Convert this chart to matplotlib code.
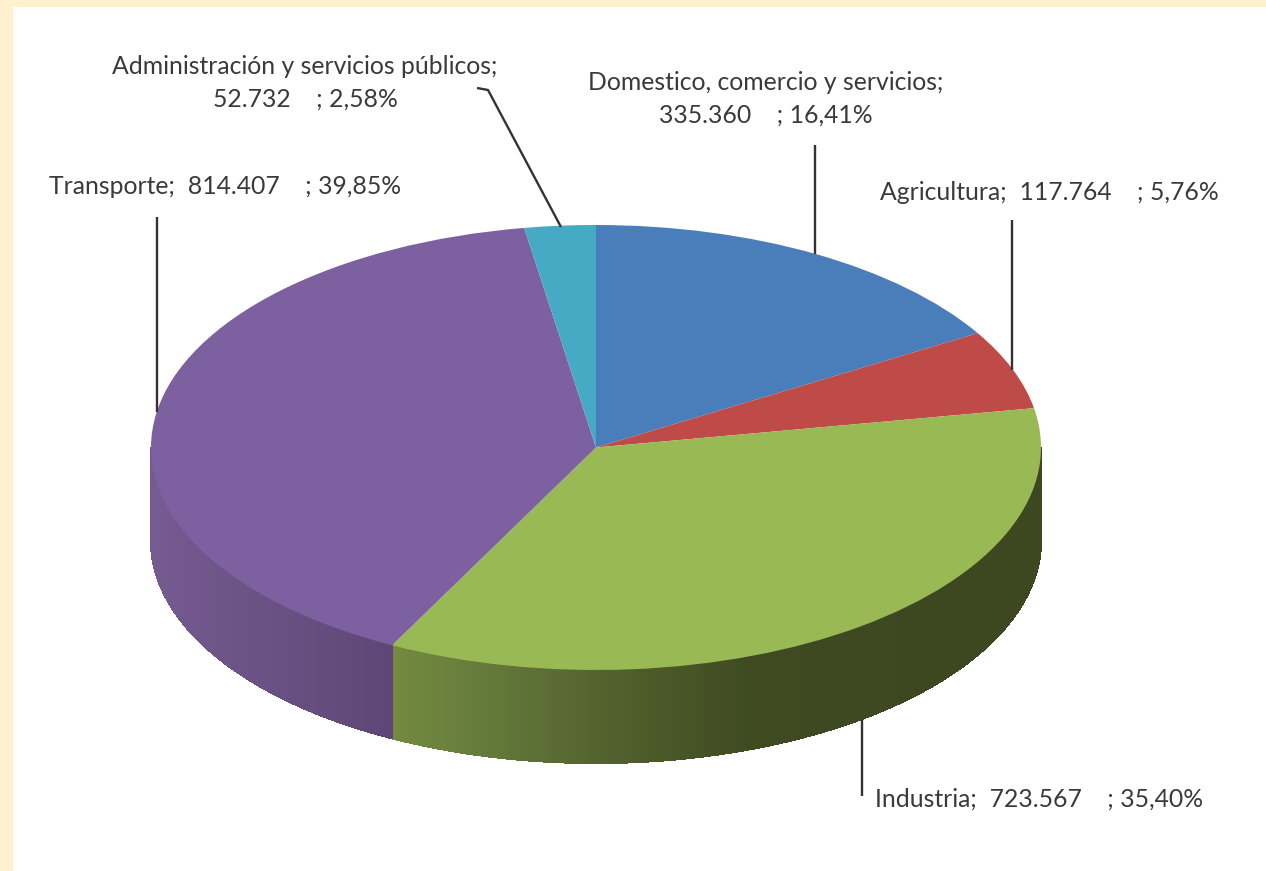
import numpy as np
import matplotlib
matplotlib.use("Agg")
import matplotlib.pyplot as plt
from matplotlib.colors import to_rgb

plt.rcParams['font.family'] = ['Lato', 'DejaVu Sans']

# datos, en sentido horario desde arriba
sectores = ["Domestico, comercio y servicios", "Agricultura", "Industria",
            "Transporte", "Administración y servicios públicos"]
valores = [335360, 117764, 723567, 814407, 52732]
porcentajes = [16.41, 5.76, 35.40, 39.85, 2.58]
colores = ["#4a7ebb", "#be4b48", "#98b954", "#7d60a0", "#46aac5"]

W, H = 1266, 871
CX, CY, RX, RY = 596, 447.5, 445, 222.5
PROF = 93   # altura de la pared del pastel, en pixeles

# degradado de la pared: pares (x en pixeles, color)
pared = {
    2: [(391, "#748b40"), (500, "#62773a"), (620, "#505f2c"), (750, "#3f4a21"), (1041, "#3d4720")],
    3: [(151, "#755b90"), (391, "#5e4776")],
}

fig = plt.figure(figsize=(W / 100, H / 100), dpi=100, facecolor="#fff1cf")

# fondo blanco, deja el marco crema a la izquierda y arriba
fondo = fig.add_axes([13 / W, 0, 1 - 13 / W, 1 - 7 / H], zorder=0)
fondo.set_facecolor("white")
fondo.set_xticks([])
fondo.set_yticks([])
for s in fondo.spines.values():
    s.set_visible(False)

# el pastel va en unos ejes no cuadrados, asi los sectores salen elipticos
ax = fig.add_axes([(CX - RX) / W, 1 - (CY + RY) / H, 2 * RX / W, 2 * RY / H], zorder=1)
ax.patch.set_alpha(0)
ax.pie(valores, colors=colores, startangle=90, counterclock=False, radius=1,
       wedgeprops={"linewidth": 0})
ax.set_aspect("auto")
ax.set_xlim(-1, 1)
ax.set_ylim(-1, 1)

# pared lateral: tiras finas con color segun x
fracciones = np.cumsum([0] + valores) / sum(valores) * 2 * np.pi
prof = PROF / RY
for i, paradas in pared.items():
    ini = max(fracciones[i], np.pi / 2)
    fin = min(fracciones[i + 1], 3 * np.pi / 2)
    t = np.linspace(ini, fin, 160)
    xs = [p[0] for p in paradas]
    rgb = np.array([to_rgb(p[1]) for p in paradas])
    for a, b in zip(t[:-1], t[1:]):
        xp = CX + RX * np.sin((a + b) / 2)
        c = [np.interp(xp, xs, rgb[:, k]) for k in range(3)]
        tt = np.array([a, b])
        x = np.sin(tt)
        y = np.cos(tt)
        # sin antialias para que no salgan rayas entre tiras
        ax.fill([x[0], x[1], x[1], x[0]], [y[0], y[1], y[1] - prof, y[0] - prof],
                color=c, lw=0.8, antialiased=False, zorder=0.5, clip_on=False)
        # borde inferior suave
        ax.plot(x, y - prof, color=c, lw=0.8, zorder=0.6, clip_on=False, solid_capstyle="round")

# textos y lineas guia en pixeles
capa = fig.add_axes([0, 0, 1, 1], zorder=2)
capa.set_xlim(0, W)
capa.set_ylim(H, 0)
capa.axis("off")


def etiqueta(i):
    num = format(valores[i], ",").replace(",", ".")
    pct = f"{porcentajes[i]:.2f}".replace(".", ",")
    return num, pct


gris = "#3a3a3a"
fs = 17.8
for i, (x, y) in {1: (880, 192), 2: (875, 799), 3: (49, 186)}.items():
    num, pct = etiqueta(i)
    capa.text(x, y, f"{sectores[i]};  {num}    ; {pct}%", ha="left", va="center", fontsize=fs, color=gris)
for i, (x, y1, y2) in {0: (766, 83, 115), 4: (305, 66, 99)}.items():
    num, pct = etiqueta(i)
    capa.text(x, y1, f"{sectores[i]};", ha="center", va="center", fontsize=fs, color=gris)
    capa.text(x, y2, f"{num}    ; {pct}%", ha="center", va="center", fontsize=fs, color=gris)

guias = [
    ([157, 157], [217, 412]),
    ([477, 488, 561], [88, 90, 227]),
    ([815, 815], [145, 254]),
    ([1012, 1012], [220, 370]),
    ([862, 862], [720, 796]),
]
for gx, gy in guias:
    capa.plot(gx, gy, color="#333333", lw=1.7, solid_capstyle="butt")

fig.savefig("out.png", dpi=100, facecolor=fig.get_facecolor())
